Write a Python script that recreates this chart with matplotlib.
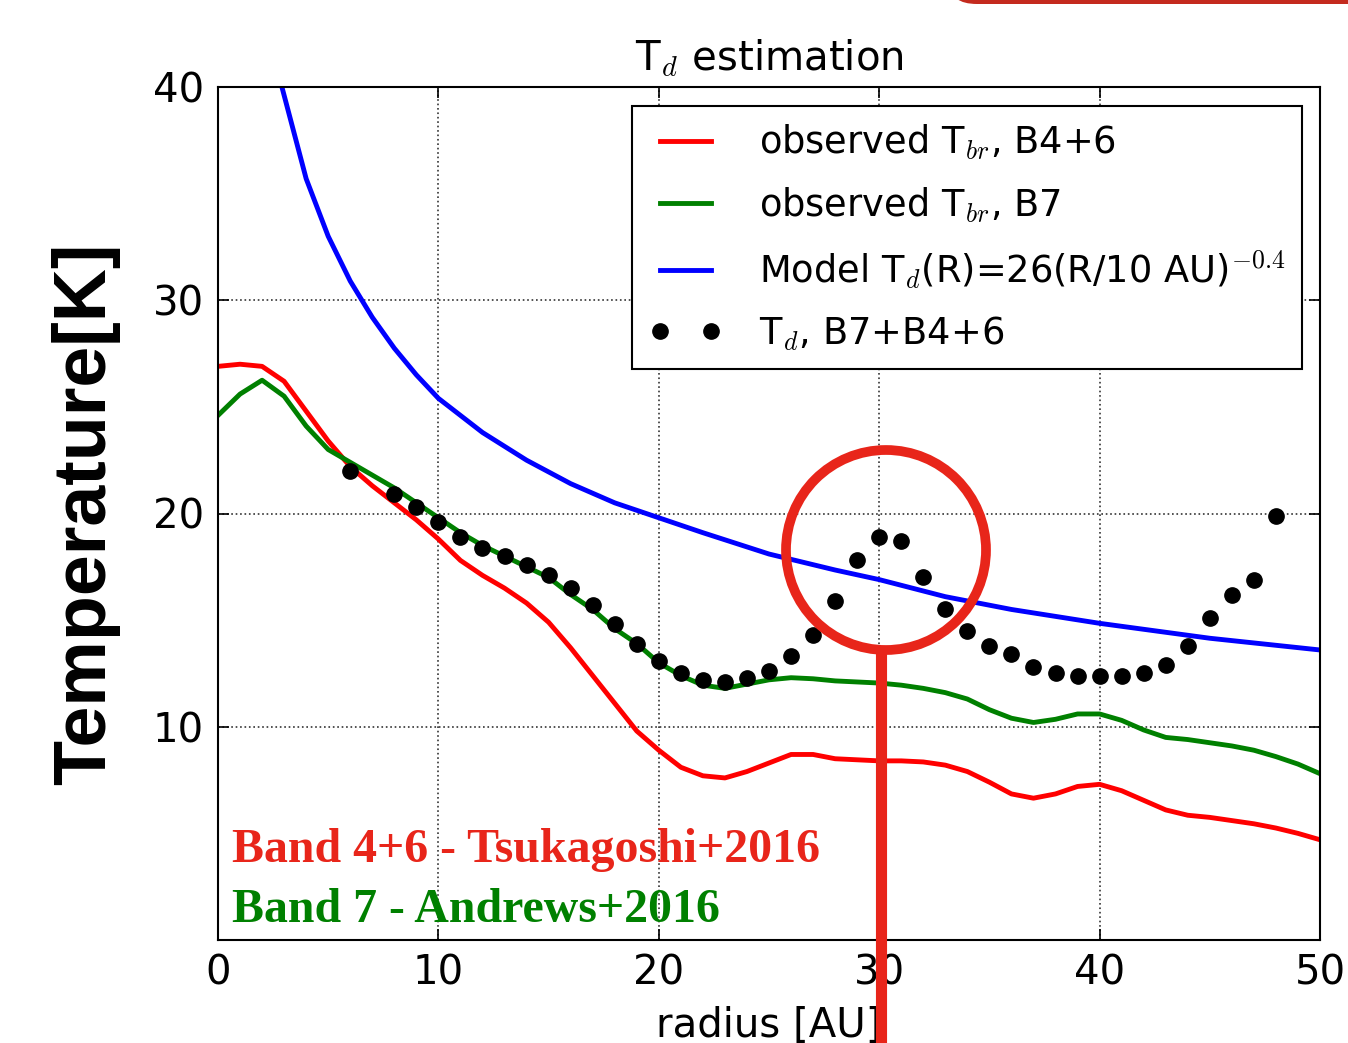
import matplotlib
matplotlib.use('Agg')
import matplotlib.pyplot as plt
from matplotlib.patches import Ellipse, FancyBboxPatch
from matplotlib.lines import Line2D

plt.rcParams['mathtext.fontset'] = 'cm'
plt.rcParams['font.family'] = 'DejaVu Sans'

# observed brightness temperature, Band 4+6
r_b46 = list(range(0, 51))
t_b46 = [26.9, 27.0, 26.9, 26.2, 24.8, 23.4, 22.2, 21.3, 20.5, 19.7,
         18.8, 17.8, 17.1, 16.5, 15.8, 14.9, 13.7, 12.4, 11.1, 9.8,
         8.9, 8.1, 7.7, 7.6, 7.9, 8.3, 8.7, 8.7, 8.5, 8.45,
         8.4, 8.4, 8.35, 8.2, 7.9, 7.4, 6.85, 6.65, 6.85, 7.2,
         7.3, 7.0, 6.55, 6.1, 5.85, 5.75, 5.6, 5.45, 5.25, 5.0, 4.7]

# observed brightness temperature, Band 7
r_b7 = list(range(0, 51))
t_b7 = [24.6, 25.6, 26.25, 25.5, 24.1, 23.0, 22.4, 21.8, 21.2, 20.5,
        19.8, 19.1, 18.5, 18.0, 17.5, 17.0, 16.2, 15.5, 14.6, 13.9,
        13.0, 12.4, 11.95, 11.8, 12.0, 12.2, 12.3, 12.25, 12.15, 12.1,
        12.05, 11.95, 11.8, 11.6, 11.3, 10.8, 10.4, 10.2, 10.35, 10.6,
        10.6, 10.3, 9.85, 9.5, 9.4, 9.25, 9.1, 8.9, 8.6, 8.25, 7.8]

# model curve
r_model = [2.9, 4, 5, 6, 7, 8, 9, 10, 12, 14, 16, 18, 20, 22, 25, 28, 30, 33, 36, 40, 45, 50]
t_model = [40.0, 35.7, 33.0, 30.9, 29.2, 27.75, 26.5, 25.4, 23.8, 22.5, 21.4, 20.5,
           19.8, 19.1, 18.1, 17.35, 16.9, 16.1, 15.5, 14.85, 14.15, 13.6]

# dust temperature estimate
r_td = [6, 8, 9, 10, 11, 12, 13, 14, 15, 16, 17, 18, 19, 20, 21, 22, 23, 24, 25, 26,
        27, 28, 29, 30, 31, 32, 33, 34, 35, 36, 37, 38, 39, 40, 41, 42, 43, 44, 45,
        46, 47, 48]
t_td = [22.0, 20.9, 20.3, 19.6, 18.9, 18.4, 18.0, 17.6, 17.1, 16.5, 15.7, 14.8,
        13.9, 13.1, 12.5, 12.2, 12.1, 12.3, 12.6, 13.3, 14.3, 15.9, 17.8, 18.9,
        18.7, 17.0, 15.5, 14.5, 13.8, 13.4, 12.8, 12.5, 12.4, 12.4, 12.4, 12.5,
        12.9, 13.8, 15.1, 16.2, 16.9, 19.9]

fig = plt.figure(figsize=(13.48, 10.43), dpi=100)
ax = fig.add_axes([218 / 1348, 1 - 940 / 1043, 1102 / 1348, 853 / 1043])

ax.plot(r_b46, t_b46, color='red', lw=3.5, label=r'observed T$_{br}$, B4+6')
ax.plot(r_b7, t_b7, color='green', lw=3.5, label=r'observed T$_{br}$, B7')
ax.plot(r_model, t_model, color='blue', lw=3.5,
        label=r'Model T$_d$(R)=26(R/10 AU)$^{-0.4}$')
ax.plot(r_td, t_td, 'o', color='black', ms=11, label=r'T$_d$, B7+B4+6')

ax.set_xlim(0, 50)
ax.set_ylim(0, 40)
ax.set_xticks([0, 10, 20, 30, 40, 50])
ax.set_yticks([10, 20, 30, 40])
ax.tick_params(direction='in', top=True, right=True, length=8, width=1.2,
               labelsize=29, pad=10)
ax.grid(True, color='black', linestyle=':', linewidth=1.2, alpha=0.8)
for s in ax.spines.values():
    s.set_linewidth(1.5)

ax.set_title(r'T$_d$ estimation', fontsize=29, pad=12)
ax.set_xlabel('radius [AU]', fontsize=29, labelpad=9)
ax.set_ylabel('Temperature[K]', fontsize=53, fontweight='bold',
              family='Liberation Sans', labelpad=24)

leg = ax.legend(loc='upper right', fontsize=26.5, numpoints=2, fancybox=False,
                framealpha=1, edgecolor='black', borderpad=0.45,
                handlelength=2.0, handletextpad=1.0, labelspacing=0.64,
                borderaxespad=0, bbox_to_anchor=(1 - 18 / 1102, 1 - 19 / 853))
leg.get_frame().set_linewidth(1.5)

ax.text(0.013, 0.091, 'Band 4+6 - Tsukagoshi+2016', transform=ax.transAxes,
        color='#e8251a', fontsize=34.5, fontweight='bold', family='Liberation Serif')
ax.text(0.013, 0.021, 'Band 7 - Andrews+2016', transform=ax.transAxes,
        color='green', fontsize=34.5, fontweight='bold', family='Liberation Serif')

# red annotation: circle around the bump and a line down
annot = '#e8251a'
circ = Ellipse((886 / 1348, 1 - 550 / 1043), 200 / 1348, 200 / 1043,
               transform=fig.transFigure, fill=False, edgecolor=annot, lw=7,
               zorder=10)
fig.patches.append(circ)
fig.add_artist(Line2D([881 / 1348, 881 / 1348], [1 - 652 / 1043, 0],
                      transform=fig.transFigure, color=annot, lw=8, zorder=10))
box = FancyBboxPatch((950 / 1348, 1 - 4 / 1043), 0.4, 0.05,
                     boxstyle='round,pad=0.0,rounding_size=0.02',
                     transform=fig.transFigure, facecolor='#c42a1e',
                     edgecolor='none', clip_on=False)
fig.patches.append(box)

fig.savefig('out.png', dpi=100)
